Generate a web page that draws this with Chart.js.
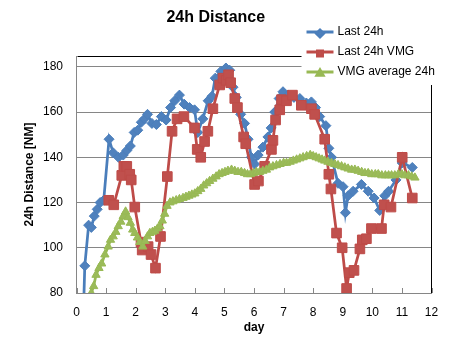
<!DOCTYPE html>
<html>
<head>
<meta charset="utf-8">
<title>24h Distance</title>
<script src="https://cdn.jsdelivr.net/npm/chart.js@4.4.1/dist/chart.umd.min.js"></script>
<style>
  html, body { margin: 0; padding: 0; background: #fff; }
  #wrap { width: 453px; height: 337px; }
</style>
</head>
<body>
<div id="wrap"><canvas id="c" width="453" height="337"></canvas></div>
<script>
// Series names and axis texts
const seriesNames = ['Last 24h', 'Last 24h VMG', 'VMG average 24h'];
const chartTitle = '24h Distance';
const xTitle = 'day';
const yTitle = '24h Distance [NM]';

// Last 24h distance (NM) by day
const dayLast = [0.20, 0.28, 0.41, 0.50, 0.60, 0.70, 0.80, 0.92, 1.10, 1.24, 1.42, 1.58, 1.70, 1.82, 1.95, 2.07, 2.19, 2.30, 2.40, 2.55, 2.70, 2.87, 3.03, 3.18, 3.32, 3.48, 3.64, 3.82, 3.99, 4.10, 4.27, 4.45, 4.58, 4.69, 4.88, 5.05, 5.18, 5.29, 5.40, 5.55, 5.68, 5.80, 5.91, 6.02, 6.14, 6.30, 6.47, 6.58, 6.70, 6.85, 6.98, 7.15, 7.35, 7.55, 7.77, 7.94, 8.08, 8.22, 8.43, 8.53, 8.62, 8.84, 9.01, 9.09, 9.18, 9.35, 9.63, 9.86, 10.06, 10.25, 10.42, 10.55, 10.80, 11.01, 11.35];
const last24 = [55, 92, 110, 109, 114, 117, 120, 121, 148, 142, 140, 141, 143, 145, 151, 152, 155.5, 157, 159, 155, 154.5, 158, 156.5, 162, 165, 167.5, 163.5, 162, 161, 151, 157, 165, 167, 175, 178, 179.5, 178.5, 171, 166.5, 159, 155, 148, 140, 137, 141, 144.5, 149, 153, 160, 166, 169, 167.5, 166.5, 166, 164, 164.5, 162, 158, 154, 144, 140, 128.5, 127, 115.5, 123, 125, 128, 125, 122, 116.5, 123, 125, 130, 137.5, 135.5];

// Last 24h VMG (NM) by day
const dayVmg = [1.09, 1.26, 1.53, 1.60, 1.70, 1.80, 1.85, 1.97, 2.18, 2.22, 2.42, 2.52, 2.67, 2.84, 3.07, 3.23, 3.40, 3.63, 3.99, 4.08, 4.20, 4.33, 4.44, 4.61, 4.84, 4.95, 5.06, 5.14, 5.21, 5.35, 5.44, 5.65, 5.72, 6.02, 6.15, 6.36, 6.59, 6.64, 6.73, 6.87, 6.93, 7.10, 7.30, 7.60, 7.94, 8.05, 8.39, 8.53, 8.60, 8.79, 8.98, 9.13, 9.22, 9.38, 9.58, 9.66, 9.80, 9.97, 10.31, 10.40, 10.63, 11.01, 11.35];
const vmg24 = [121, 119, 132, 136, 136, 132.5, 130, 118, 102.5, 99, 100.5, 97, 91, 105, 131.5, 151.5, 157, 158, 153, 143.5, 140, 147, 151.5, 161.5, 172, 175, 174, 176.5, 173, 166, 162, 149, 146, 128, 129.5, 136, 143.5, 147.5, 156.5, 161, 165.5, 165, 167.5, 163, 161.5, 159, 148, 132.5, 126, 106.5, 100, 82, 89, 90, 99.5, 103.5, 104, 108.5, 108.5, 119, 118, 140, 122];

// VMG average over 24h (NM) by day
const dayAvg = [0.50, 0.58, 0.66, 0.76, 0.85, 0.96, 1.07, 1.15, 1.24, 1.33, 1.41, 1.50, 1.58, 1.66, 1.74, 1.82, 1.90, 1.97, 2.06, 2.14, 2.24, 2.32, 2.40, 2.48, 2.57, 2.65, 2.74, 2.82, 2.90, 2.98, 3.06, 3.16, 3.26, 3.37, 3.48, 3.60, 3.70, 3.80, 3.90, 4.00, 4.10, 4.20, 4.30, 4.40, 4.50, 4.61, 4.72, 4.82, 4.92, 5.02, 5.12, 5.24, 5.35, 5.46, 5.57, 5.68, 5.78, 5.88, 5.98, 6.08, 6.19, 6.30, 6.42, 6.53, 6.64, 6.76, 6.88, 7.00, 7.10, 7.22, 7.33, 7.44, 7.55, 7.66, 7.78, 7.90, 8.00, 8.10, 8.20, 8.30, 8.39, 8.50, 8.62, 8.73, 8.84, 8.96, 9.07, 9.18, 9.30, 9.41, 9.52, 9.64, 9.75, 9.86, 9.98, 10.10, 10.20, 10.32, 10.44, 10.55, 10.65, 10.76, 10.88, 11.00, 11.10, 11.22, 11.33, 11.44];
const vmgAvg = [80, 83, 88, 91, 93, 97, 100.5, 103.5, 105, 107, 109.5, 111.5, 114, 116, 113.5, 111, 108, 106.5, 104.5, 102.5, 100.5, 103, 105, 106.5, 107, 107.5, 108.5, 109.5, 112, 115, 118.5, 120, 120.5, 121, 121.5, 122, 122.5, 123, 123.5, 124, 125, 126, 127.5, 128.5, 129.5, 130.5, 131.5, 132.5, 133, 133.5, 134, 134.5, 134, 133.5, 133.5, 133, 132.5, 132.5, 133, 133.5, 133.5, 134, 134.5, 135.5, 136, 136.5, 137, 137.5, 137.5, 138, 138.5, 139, 139.5, 140, 140.5, 141, 140.5, 140, 139.5, 139, 138.5, 138, 137.5, 137, 136.5, 136, 135.5, 135, 134.5, 134.5, 134, 133.5, 133, 133, 132.5, 132.5, 132.5, 132, 132, 132, 132, 132, 132.5, 132.5, 132, 132, 131.5, 131];

// Axis ranges and tick steps
const xMin = 0, xMax = 12, xStep = 1;
const yMin = 80, yMax = 184.8, yStep = 20;

const pairs = (xs, ys) => xs.map((x, i) => ({ x: x, y: ys[i] }));

const BLUE = '#4A7EBB', BLUE_M = '#4F81BD';
const RED = '#BE4B48', RED_M = '#C0504D';
const GREEN = '#98B954', GREEN_M = '#9BBB59';
const AXIS = '#868686';
const FONT = "'Liberation Sans', Arial, sans-serif";

// Frame (top/right border), inward x tick marks and the boxed legend
const framePlugin = {
  id: 'frame',
  beforeDatasetsDraw(chart) {
    const { ctx, chartArea: a, scales } = chart;
    ctx.save();
    ctx.strokeStyle = '#000';
    ctx.lineWidth = 1;
    ctx.beginPath();
    ctx.moveTo(Math.round(a.left) + 0.5, Math.round(a.top) + 0.5);
    ctx.lineTo(Math.round(a.right) - 0.5, Math.round(a.top) + 0.5);
    ctx.lineTo(Math.round(a.right) - 0.5, Math.round(a.bottom));
    ctx.stroke();
    ctx.strokeStyle = AXIS;
    ctx.beginPath();
    scales.x.ticks.forEach(t => {
      const px = Math.round(scales.x.getPixelForValue(t.value)) + 0.5;
      ctx.moveTo(px, a.bottom);
      ctx.lineTo(px, a.bottom - 5);
    });
    ctx.stroke();
    ctx.restore();
  },
  afterDraw(chart) {
    const { ctx, chartArea: a } = chart;
    const box = { left: a.right - 130, top: 0, right: chart.width, bottom: 85 };
    ctx.save();
    ctx.fillStyle = '#fff';
    ctx.fillRect(box.left, box.top, box.right - box.left, box.bottom - box.top);
    const rows = [32, 52, 72];
    chart.data.datasets.forEach((ds, i) => {
      const y = rows[i];
      const x0 = box.left + 5, x1 = box.left + 32;
      ctx.strokeStyle = ds.borderColor;
      ctx.lineWidth = 3;
      ctx.beginPath();
      ctx.moveTo(x0, y);
      ctx.lineTo(x1, y);
      ctx.stroke();
      ctx.fillStyle = ds.pointBackgroundColor;
      ctx.strokeStyle = ds.pointBorderColor;
      Chart.helpers.drawPoint(ctx, { pointStyle: ds.pointStyle, radius: 3.5, borderWidth: 1 }, (x0 + x1) / 2, y + 1.5);
      ctx.fillStyle = '#000';
      ctx.font = '12px ' + FONT;
      ctx.textAlign = 'left';
      ctx.textBaseline = 'middle';
      ctx.fillText(ds.label, x1 + 4, y);
    });
    ctx.restore();
  }
};

new Chart(document.getElementById('c'), {
  type: 'line',
  data: {
    datasets: [
      {
        label: seriesNames[0],
        data: pairs(dayLast, last24),
        borderColor: BLUE, borderWidth: 2.75,
        pointStyle: 'rectRot', pointRadius: 5, pointHoverRadius: 5,
        pointBackgroundColor: BLUE_M, pointBorderColor: BLUE, pointBorderWidth: 1,
        tension: 0, order: 3
      },
      {
        label: seriesNames[1],
        data: pairs(dayVmg, vmg24),
        borderColor: RED, borderWidth: 2.75,
        pointStyle: 'rect', pointRadius: 6.8, pointHoverRadius: 6.8,
        pointBackgroundColor: RED_M, pointBorderColor: RED, pointBorderWidth: 1,
        tension: 0, order: 2
      },
      {
        label: seriesNames[2],
        data: pairs(dayAvg, vmgAvg),
        borderColor: GREEN, borderWidth: 2.75,
        pointStyle: 'triangle', pointRadius: 4.8, pointHoverRadius: 4.8,
        pointBackgroundColor: GREEN_M, pointBorderColor: GREEN, pointBorderWidth: 1,
        tension: 0, order: 1
      }
    ]
  },
  options: {
    responsive: false,
    animation: false,
    events: [],
    layout: { padding: { left: 0, right: 21.5, top: 0, bottom: 0 } },
    plugins: {
      legend: { display: false },
      tooltip: { enabled: false },
      title: {
        display: true,
        text: chartTitle,
        color: '#000',
        font: { family: FONT, size: 16, weight: 'bold', lineHeight: 1.2 },
        padding: { top: 8.4, bottom: 28.4 }
      }
    },
    scales: {
      x: {
        type: 'linear',
        min: xMin, max: xMax,
        ticks: {
          stepSize: xStep, color: '#000', padding: 12.5,
          font: { family: FONT, size: 12 }, maxRotation: 0
        },
        grid: { drawOnChartArea: false, drawTicks: false },
        border: { display: true, color: AXIS, width: 1 },
        title: {
          display: true, text: xTitle, color: '#000',
          font: { family: FONT, size: 12, weight: 'bold', lineHeight: 1.2 },
          padding: { top: 0, bottom: 2 }
        },
        afterFit(s) { s.height = 44; }
      },
      y: {
        type: 'linear',
        min: yMin, max: yMax,
        ticks: {
          stepSize: yStep, includeBounds: false, color: '#000', padding: 13.5,
          font: { family: FONT, size: 12 }
        },
        grid: { color: AXIS, lineWidth: 1, drawTicks: false },
        border: { display: true, color: AXIS, width: 1 },
        title: {
          display: true, text: yTitle, color: '#000',
          font: { family: FONT, size: 12, weight: 'bold', lineHeight: 1.2 },
          padding: { top: 22.8, bottom: 0 }
        },
        afterFit(s) { s.width = 76.5; }
      }
    }
  },
  plugins: [framePlugin]
});
</script>
</body>
</html>
